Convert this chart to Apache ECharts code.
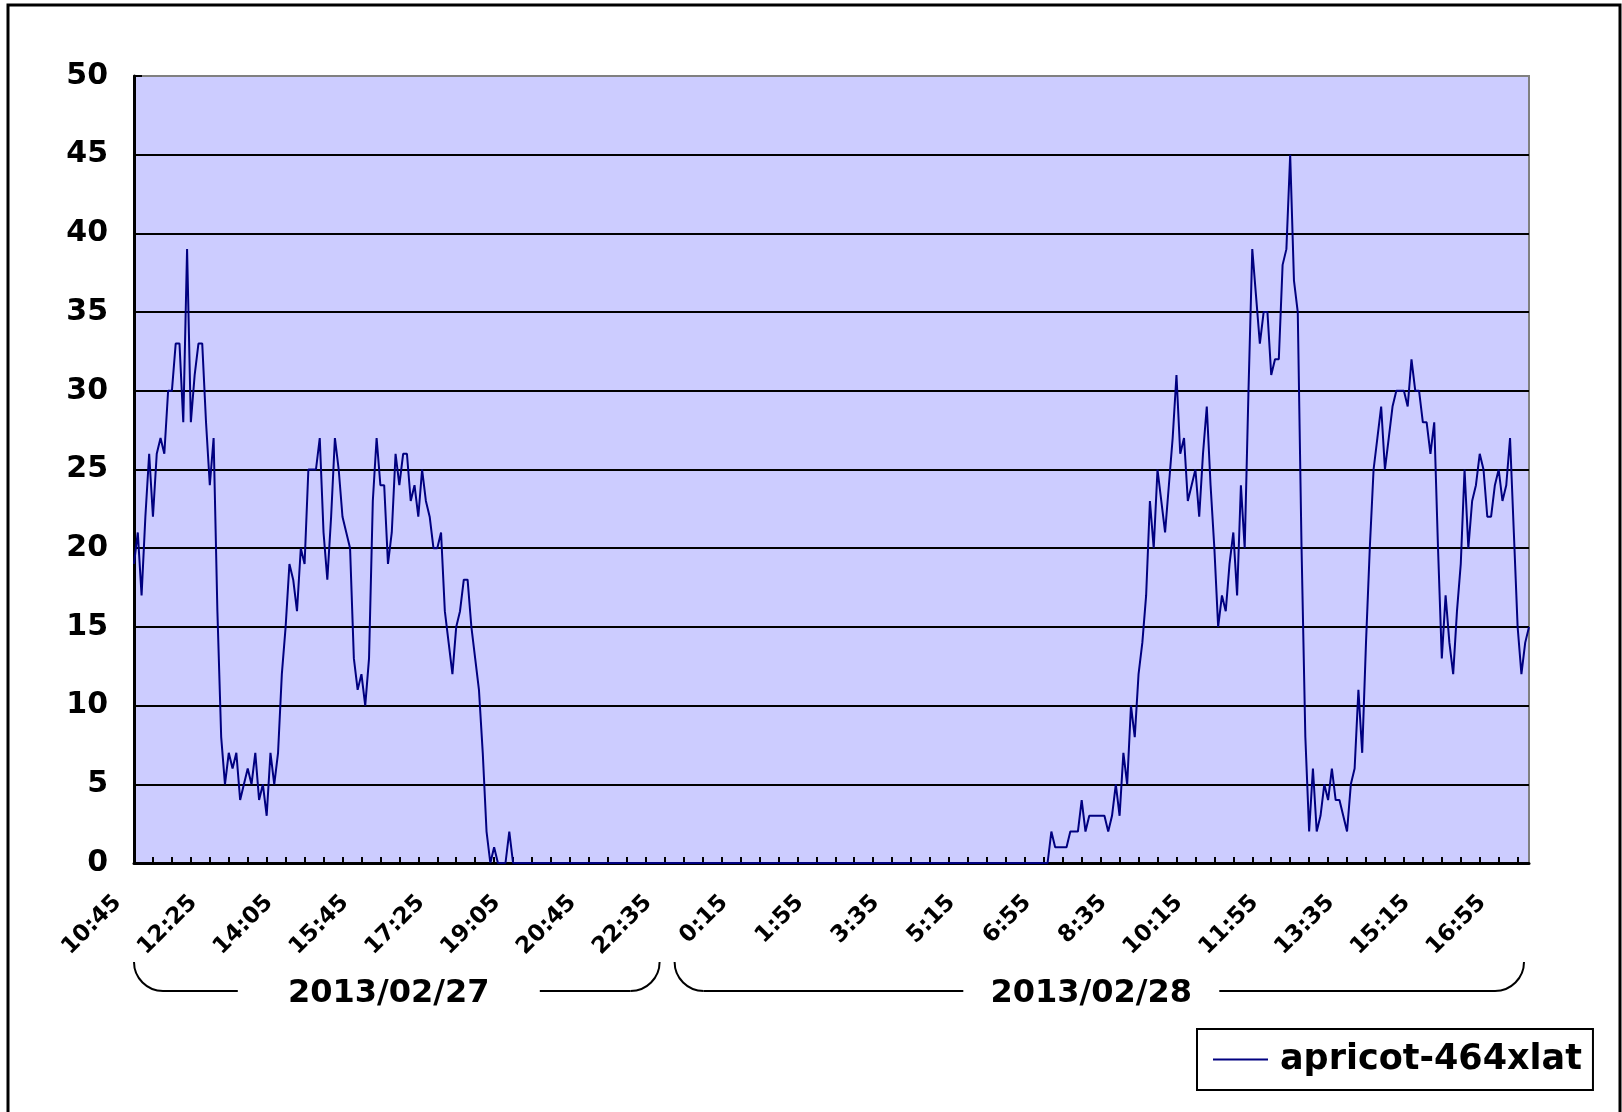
<!DOCTYPE html>
<html>
<head>
<meta charset="utf-8">
<title>apricot-464xlat</title>
<script src="https://cdn.jsdelivr.net/npm/echarts@6/dist/echarts.min.js"></script>
<style>
  html, body { margin: 0; padding: 0; background: #fff; }
  #chart { width: 1622px; height: 1112px; }
</style>
</head>
<body>
<div id="chart"></div>
<script>
const seriesName = 'apricot-464xlat';

// sample times, 5 min apart: [first time, number of samples]
const timeRuns = [['10:45', 121], ['21:00', 248]];

// second level of the category axis
const dates = ['2013/02/27', '2013/02/28'];
const dateCounts = [141, 228];

const yMin = 0;
const yMax = 50;
const yStep = 5;

// 2013/02/27 samples
const day1Values = [
  19, 21, 17, 22, 26, 22, 26, 27, 26, 30,
  30, 33, 33, 28, 39, 28, 31, 33, 33, 28,
  24, 27, 16, 8, 5, 7, 6, 7, 4, 5,
  6, 5, 7, 4, 5, 3, 7, 5, 7, 12,
  15, 19, 18, 16, 20, 19, 25, 25, 25, 27,
  21, 18, 22, 27, 25, 22, 21, 20, 13, 11,
  12, 10, 13, 23, 27, 24, 24, 19, 21, 26,
  24, 26, 26, 23, 24, 22, 25, 23, 22, 20,
  20, 21, 16, 14, 12, 15, 16, 18, 18, 15,
  13, 11, 7, 2, 0, 1, 0, 0, 0, 2,
  0, 0, 0, 0, 0, 0, 0, 0, 0, 0, 0, 0, 0, 0, 0, 0, 0, 0, 0, 0,
  0, 0, 0, 0, 0, 0, 0, 0, 0, 0, 0, 0, 0, 0, 0, 0, 0, 0, 0, 0,
  0
];

// 2013/02/28 samples
const day2Values = [
  0, 0, 0, 0, 0, 0, 0, 0, 0, 0, 0, 0, 0, 0, 0, 0, 0, 0, 0, 0,
  0, 0, 0, 0, 0, 0, 0, 0, 0, 0, 0, 0, 0, 0, 0, 0, 0, 0, 0, 0,
  0, 0, 0, 0, 0, 0, 0, 0, 0, 0, 0, 0, 0, 0, 0, 0, 0, 0, 0, 0,
  0, 0, 0, 0, 0, 0, 0, 0, 0, 0, 0, 0, 0, 0, 0, 0, 0, 0, 0, 0,
  0, 0, 0, 0, 0, 0, 0, 0, 0, 0, 0, 0, 0, 0, 0, 0, 0, 0, 0, 0,
  0, 2, 1, 1, 1, 1, 2, 2, 2, 4,
  2, 3, 3, 3, 3, 3, 2, 3, 5, 3,
  7, 5, 10, 8, 12, 14, 17, 23, 20, 25,
  23, 21, 24, 27, 31, 26, 27, 23, 24, 25,
  22, 26, 29, 24, 20, 15, 17, 16, 19, 21,
  17, 24, 20, 30, 39, 36, 33, 35, 35, 31,
  32, 32, 38, 39, 45, 37, 35, 20, 8, 2,
  6, 2, 3, 5, 4, 6, 4, 4, 3, 2,
  5, 6, 11, 7, 14, 20, 25, 27, 29, 25,
  27, 29, 30, 30, 30, 29, 32, 30, 30, 28,
  28, 26, 28, 20, 13, 17, 14, 12, 16, 19,
  25, 20, 23, 24, 26, 25, 22, 22, 24, 25,
  23, 24, 27, 21, 15, 12, 14, 15
];

const FONT = '"DejaVu Sans", Verdana, sans-serif';
const bracketGap = [151, 128];  // half width of the break around the date text

function buildTimes(runs) {
  const out = [];
  runs.forEach(([start, n]) => {
    const [h, m] = start.split(':').map(Number);
    const t0 = h * 60 + m;
    for (let i = 0; i < n; i++) {
      const t = (t0 + i * 5) % 1440;
      out.push(Math.floor(t / 60) + ':' + String(t % 60).padStart(2, '0'));
    }
  });
  return out;
}

const times = buildTimes(timeRuns);
const values = day1Values.concat(day2Values);

const chart = echarts.init(document.getElementById('chart'));

const option = {
  animation: false,
  backgroundColor: '#fff',
  grid: {
    left: 134,
    right: 93,
    top: 76,
    bottom: 249,
    show: true,
    backgroundColor: '#CCCCFF',
    borderColor: '#808080',
    borderWidth: 2
  },
  legend: {
    left: 1197,
    top: 1029,
    padding: [13, 11, 13, 16],
    borderColor: '#000',
    borderWidth: 2,
    icon: 'rect',
    itemWidth: 55,
    itemHeight: 2,
    itemGap: 0,
    textStyle: {
      fontSize: 35,
      fontWeight: 'bold',
      fontFamily: FONT,
      color: '#000',
      padding: [0, 0, 0, 7]
    },
    data: [seriesName]
  },
  xAxis: {
    type: 'category',
    data: times,
    boundaryGap: false,
    axisLine: { lineStyle: { color: '#000', width: 3 } },
    axisTick: { inside: true, length: 6, interval: 4, lineStyle: { color: '#000', width: 2 } },
    axisLabel: {
      interval: 19,
      rotate: 45,
      margin: 20,
      padding: [0, 23, 0, 0],
      color: '#000',
      fontSize: 23,
      fontWeight: 'bold',
      fontFamily: FONT
    },
    splitLine: { show: false }
  },
  yAxis: {
    type: 'value',
    min: yMin,
    max: yMax,
    interval: yStep,
    axisLine: { show: true, lineStyle: { color: '#000', width: 3 } },
    axisTick: { show: true, inside: true, length: 8, lineStyle: { color: '#000', width: 2 } },
    axisLabel: { margin: 26, color: '#000', fontSize: 30, fontWeight: 'bold', fontFamily: FONT },
    splitLine: { show: true, showMaxLine: false, lineStyle: { color: '#000', width: 2 } }
  },
  series: [
    {
      name: seriesName,
      type: 'line',
      data: values,
      showSymbol: false,
      symbol: 'none',
      itemStyle: { color: '#000080' },
      lineStyle: { color: '#000080', width: 2 }
    }
  ]
};

chart.setOption(option);

// outer frame and the date brackets under the time labels
function drawDecor() {
  const top = 962, bottom = 991, r = 29;
  const px = i => chart.convertToPixel({ xAxisIndex: 0 }, i);
  const stroke = { stroke: '#000', lineWidth: 2, fill: null };
  const elements = [
    {
      type: 'rect',
      shape: { x: 8, y: 5, width: 1612, height: 1200 },
      style: { stroke: '#000', lineWidth: 3, fill: null },
      silent: true
    }
  ];

  let start = 0;
  dates.forEach((d, k) => {
    const end = start + dateCounts[k] - 1;
    const x0 = k === 0 ? px(start) : (px(start - 1) + px(start)) / 2 + 8;
    const x1 = k === dates.length - 1 ? px(end) - 5 : (px(end) + px(end + 1)) / 2 - 7;
    const cx = (x0 + x1) / 2 - 8;
    const gap = bracketGap[k];

    elements.push(
      {
        type: 'bezierCurve',
        shape: { x1: x0, y1: top, cpx1: x0, cpy1: top + r * 0.55, cpx2: x0 + r * 0.45, cpy2: bottom, x2: x0 + r, y2: bottom },
        style: stroke, silent: true
      },
      { type: 'line', shape: { x1: x0 + r, y1: bottom, x2: cx - gap, y2: bottom }, style: stroke, silent: true },
      { type: 'line', shape: { x1: cx + gap, y1: bottom, x2: x1 - r, y2: bottom }, style: stroke, silent: true },
      {
        type: 'bezierCurve',
        shape: { x1: x1, y1: top, cpx1: x1, cpy1: top + r * 0.55, cpx2: x1 - r * 0.45, cpy2: bottom, x2: x1 - r, y2: bottom },
        style: stroke, silent: true
      },
      {
        type: 'text',
        x: cx,
        y: 994,
        style: {
          text: d,
          fill: '#000',
          font: 'bold 32px ' + FONT,
          textAlign: 'center',
          textVerticalAlign: 'middle',
          align: 'center',
          verticalAlign: 'middle'
        },
        silent: true
      }
    );
    start = end + 1;
  });

  chart.setOption({ graphic: elements });
}

drawDecor();
</script>
</body>
</html>
